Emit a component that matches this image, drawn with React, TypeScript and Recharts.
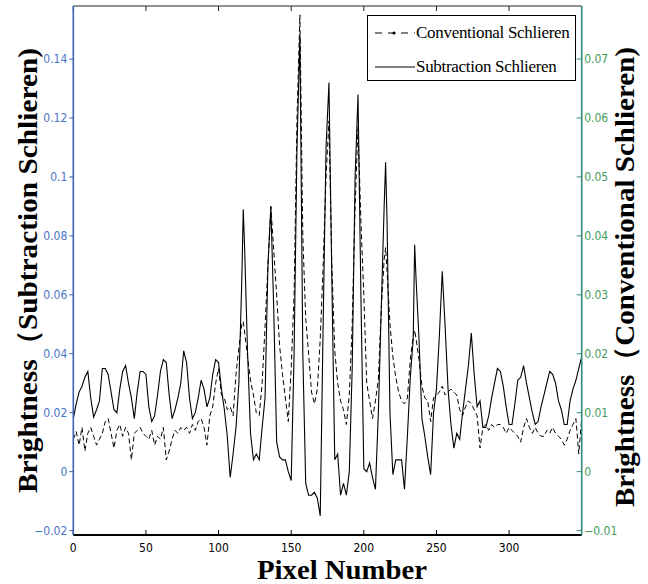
import React from 'react';
import { ComposedChart, Line, XAxis, YAxis, Legend } from 'recharts';

const pixels = [
  0, 2, 4, 6, 8, 10, 12, 14, 16, 18,
  20, 22, 24, 26, 28, 30, 32, 34, 36, 38,
  40, 42, 44, 46, 48, 50, 52, 54, 56, 58,
  60, 62, 64, 66, 68, 70, 72, 74, 76, 78,
  80, 82, 84, 86, 88, 90, 92, 94, 96, 98,
  100, 102, 104, 106, 108, 110, 112, 114, 116, 117,
  118, 120, 122, 124, 126, 128, 130, 132, 134, 136,
  138, 140, 142, 144, 146, 148, 150, 152, 154, 156,
  158, 160, 162, 164, 166, 168, 170, 172, 174, 176,
  178, 180, 182, 184, 186, 188, 190, 192, 194, 196,
  198, 200, 202, 204, 206, 208, 210, 212, 214, 215,
  216, 218, 220, 222, 224, 226, 228, 230, 232, 234,
  235, 236, 238, 240, 242, 244, 246, 248, 250, 252,
  254, 256, 258, 260, 262, 264, 266, 268, 270, 272,
  274, 276, 278, 280, 282, 284, 286, 288, 290, 292,
  294, 296, 298, 300, 302, 304, 306, 308, 310, 312,
  314, 316, 318, 320, 322, 324, 326, 328, 330, 332,
  334, 336, 338, 340, 342, 344, 346, 348, 350,
];

// Subtraction Schlieren (left axis)
const subtraction = [
  0.018, 0.023, 0.027, 0.029, 0.032, 0.034, 0.025, 0.0185, 0.021, 0.024,
  0.035, 0.035, 0.033, 0.027, 0.021, 0.02, 0.028, 0.034, 0.036, 0.03,
  0.025, 0.018, 0.027, 0.034, 0.034, 0.033, 0.022, 0.017, 0.019, 0.026,
  0.034, 0.038, 0.037, 0.026, 0.018, 0.021, 0.025, 0.03, 0.041, 0.037,
  0.025, 0.018, 0.02, 0.025, 0.031, 0.028, 0.022, 0.025, 0.033, 0.038,
  0.037, 0.028, 0.021, 0.012, -0.002, 0.006, 0.015, 0.03, 0.065, 0.089,
  0.075, 0.04, 0.013, 0.004, 0.006, 0.004, 0.015, 0.025, 0.07, 0.09,
  0.055, 0.01, 0.005, 0.004, 0.004, 0.0, -0.003, 0.04, 0.11, 0.148,
  0.04, -0.004, -0.008, -0.008, -0.007, -0.009, -0.015, 0.05, 0.11, 0.132,
  0.065, 0.004, 0.006, -0.008, -0.004, -0.008, 0.0, 0.035, 0.1, 0.128,
  0.06, 0.001, 0.0, 0.003, -0.002, -0.006, 0.02, 0.055, 0.09, 0.105,
  0.085, 0.02, -0.001, 0.004, 0.004, 0.004, -0.006, 0.012, 0.032, 0.045,
  0.077, 0.065, 0.045, 0.018, 0.012, 0.005, -0.001, 0.02, 0.028, 0.046,
  0.068, 0.049, 0.028, 0.016, 0.008, 0.013, 0.011, 0.02, 0.028, 0.036,
  0.047, 0.033, 0.022, 0.024, 0.015, 0.015, 0.019, 0.025, 0.03, 0.035,
  0.034, 0.029, 0.022, 0.016, 0.016, 0.023, 0.031, 0.032, 0.036, 0.03,
  0.025, 0.02, 0.016, 0.017, 0.022, 0.026, 0.03, 0.034, 0.033, 0.03,
  0.024, 0.021, 0.016, 0.016, 0.024, 0.028, 0.031, 0.035, 0.039,
];

// Conventional Schlieren (right axis)
const conventional = [
  0.0055, 0.0068, 0.0045, 0.0075, 0.0035, 0.0065, 0.0075, 0.006, 0.0045, 0.0055,
  0.0065, 0.0085, 0.009, 0.0065, 0.004, 0.007, 0.008, 0.006, 0.0075, 0.0065,
  0.002, 0.0065, 0.007, 0.0075, 0.0065, 0.006, 0.0055, 0.007, 0.0045, 0.006,
  0.0055, 0.0075, 0.002, 0.0035, 0.0055, 0.007, 0.0065, 0.0075, 0.007, 0.0075,
  0.0065, 0.008, 0.007, 0.0085, 0.009, 0.0075, 0.0045, 0.0095, 0.011, 0.015,
  0.0175, 0.013, 0.0125, 0.0105, 0.011, 0.0095, 0.0165, 0.021, 0.025, 0.0255,
  0.0235, 0.0195, 0.0155, 0.013, 0.01, 0.0095, 0.015, 0.0245, 0.035, 0.045,
  0.0375, 0.03, 0.0215, 0.0165, 0.0125, 0.0085, 0.0175, 0.03, 0.06, 0.0775,
  0.04, 0.026, 0.02, 0.0135, 0.0115, 0.014, 0.0225, 0.035, 0.05, 0.0595,
  0.035, 0.0205, 0.015, 0.012, 0.0105, 0.008, 0.013, 0.025, 0.045, 0.0585,
  0.0425, 0.03, 0.015, 0.012, 0.009, 0.012, 0.0155, 0.0275, 0.036, 0.038,
  0.034, 0.025, 0.0195, 0.016, 0.0135, 0.012, 0.0115, 0.0125, 0.019, 0.023,
  0.024, 0.0225, 0.019, 0.0145, 0.0125, 0.012, 0.0085, 0.0125, 0.013, 0.0135,
  0.0145, 0.013, 0.0135, 0.014, 0.0135, 0.013, 0.0105, 0.0095, 0.011, 0.012,
  0.0115, 0.0105, 0.0095, 0.004, 0.0075, 0.008, 0.007, 0.008, 0.0075, 0.008,
  0.008, 0.0075, 0.0065, 0.0075, 0.007, 0.0065, 0.006, 0.005, 0.0075, 0.009,
  0.0075, 0.0065, 0.0075, 0.0065, 0.006, 0.006, 0.007, 0.0065, 0.0075, 0.0065,
  0.006, 0.0055, 0.0045, 0.0055, 0.007, 0.008, 0.009, 0.003, 0.009,
];

const xTicks = [0, 50, 100, 150, 200, 250, 300];
const leftTicks = [-0.02, 0, 0.02, 0.04, 0.06, 0.08, 0.1, 0.12, 0.14];
const rightTicks = [-0.01, 0, 0.01, 0.02, 0.03, 0.04, 0.05, 0.06, 0.07];

const seriesNames = ['Conventional Schlieren', 'Subtraction Schlieren'];
const xTitle = 'Pixel Number';
const leftTitle = 'Brightness（Subtraction Schlieren)';
const rightTitle = 'Brightness（Conventional Schlieren)';

const data = pixels.map((p, i) => ({ pixel: p, sub: subtraction[i], conv: conventional[i] }));

const NARROW = "'Liberation Sans Narrow', 'Arial Narrow', 'DejaVu Sans Condensed', sans-serif";
const SERIF = "'Liberation Serif', 'Times New Roman', serif";
const BLUE_AXIS = '#3b63b3';
const BLUE_TEXT = '#4a74c4';
const GREEN_AXIS = '#2f8a7c';
const GREEN_TEXT = '#3f9b5c';

const fmt = (v: number) => String(+v.toFixed(2)).replace('-', '\u2212');

const EmptyTick = () => <g />;

const LegendBox = () => (
  <div
    style={{
      width: 209,
      height: 66,
      border: '1.3px solid #000',
      background: '#fff',
      boxSizing: 'border-box',
      position: 'relative',
      fontFamily: SERIF,
      fontSize: 17,
      color: '#000',
    }}
  >
    <div style={{ position: 'absolute', left: 6, top: 7, height: 20, display: 'flex', alignItems: 'center' }}>
      <svg width={42} height={20}>
        <line x1={1} y1={10} x2={41} y2={10} stroke="#000" strokeWidth={1} strokeDasharray="7 6" />
        <circle cx={20} cy={10} r={1.6} fill="#000" />
      </svg>
      <span style={{ marginLeft: 0, whiteSpace: 'nowrap', letterSpacing: -0.3 }}>{seriesNames[0]}</span>
    </div>
    <div style={{ position: 'absolute', left: 6, top: 41, height: 20, display: 'flex', alignItems: 'center' }}>
      <svg width={42} height={20}>
        <line x1={1} y1={10} x2={41} y2={10} stroke="#000" strokeWidth={1} />
      </svg>
      <span style={{ marginLeft: 0, whiteSpace: 'nowrap', letterSpacing: -0.3 }}>{seriesNames[1]}</span>
    </div>
  </div>
);

export default function App() {
  return (
    <div style={{ position: 'absolute', left: 0, top: 0, width: 648, height: 584, background: '#fff' }}>
      <ComposedChart width={648} height={584} data={data} margin={{ top: 5, right: 0, bottom: 0, left: 0 }}>
        <XAxis
          xAxisId="b"
          dataKey="pixel"
          type="number"
          domain={[0, 350]}
          ticks={xTicks}
          allowDataOverflow
          orientation="bottom"
          height={49}
          tickSize={-5}
          tickMargin={13}
          axisLine={{ stroke: '#000', strokeWidth: 2 }}
          tickLine={{ stroke: '#000' }}
          tick={{ fill: '#000', fontSize: 12, fontFamily: NARROW }}
        />
        <XAxis
          xAxisId="t"
          dataKey="pixel"
          type="number"
          domain={[0, 350]}
          ticks={xTicks}
          allowDataOverflow
          orientation="top"
          height={1}
          tickSize={-5}
          axisLine={{ stroke: '#222', strokeWidth: 1.2 }}
          tickLine={{ stroke: '#222' }}
          tick={EmptyTick}
        />
        <YAxis
          yAxisId="l"
          orientation="left"
          width={73.3}
          type="number"
          domain={[-0.0215, 0.158]}
          ticks={leftTicks}
          allowDataOverflow
          tickSize={4}
          tickMargin={2}
          tickFormatter={fmt}
          axisLine={{ stroke: BLUE_AXIS, strokeWidth: 1.6 }}
          tickLine={{ stroke: BLUE_AXIS }}
          tick={{ fill: BLUE_TEXT, fontSize: 12, fontFamily: NARROW }}
        />
        <YAxis
          yAxisId="r"
          orientation="right"
          width={66.3}
          type="number"
          domain={[-0.01075, 0.079]}
          ticks={rightTicks}
          allowDataOverflow
          tickSize={-5}
          tickMargin={7.5}
          tickFormatter={fmt}
          axisLine={{ stroke: GREEN_AXIS, strokeWidth: 1.6 }}
          tickLine={{ stroke: GREEN_AXIS }}
          tick={{ fill: GREEN_TEXT, fontSize: 12, fontFamily: NARROW }}
        />
        <Legend
          layout="vertical"
          align="center"
          verticalAlign="middle"
          content={LegendBox}
          wrapperStyle={{ position: 'absolute', left: 367, top: 15, width: 209, height: 66 }}
        />
        <Line
          xAxisId="b"
          yAxisId="r"
          dataKey="conv"
          name={seriesNames[0]}
          type="linear"
          stroke="#000"
          strokeWidth={1}
          strokeDasharray="5 3"
          dot={false}
          isAnimationActive={false}
        />
        <Line
          xAxisId="b"
          yAxisId="l"
          dataKey="sub"
          name={seriesNames[1]}
          type="linear"
          stroke="#000"
          strokeWidth={1.1}
          dot={false}
          isAnimationActive={false}
        />
      </ComposedChart>
      <svg width={648} height={584} style={{ position: 'absolute', left: 0, top: 0, pointerEvents: 'none' }}>
        <text
          x={342}
          y={579}
          textAnchor="middle"
          fontFamily={SERIF}
          fontWeight="bold"
          fontSize={28}
          fill="#000"
          textLength={170}
          lengthAdjust="spacingAndGlyphs"
        >
          {xTitle}
        </text>
        <text
          transform="translate(37,270.5) rotate(-90)"
          textAnchor="middle"
          fontFamily={SERIF}
          fontWeight="bold"
          fontSize={28}
          fill="#000"
          textLength={445}
          lengthAdjust="spacingAndGlyphs"
        >
          {leftTitle}
        </text>
        <text
          transform="translate(634,277) rotate(-90)"
          textAnchor="middle"
          fontFamily={SERIF}
          fontWeight="bold"
          fontSize={28}
          fill="#000"
          textLength={460}
          lengthAdjust="spacingAndGlyphs"
        >
          {rightTitle}
        </text>
      </svg>
    </div>
  );
}
